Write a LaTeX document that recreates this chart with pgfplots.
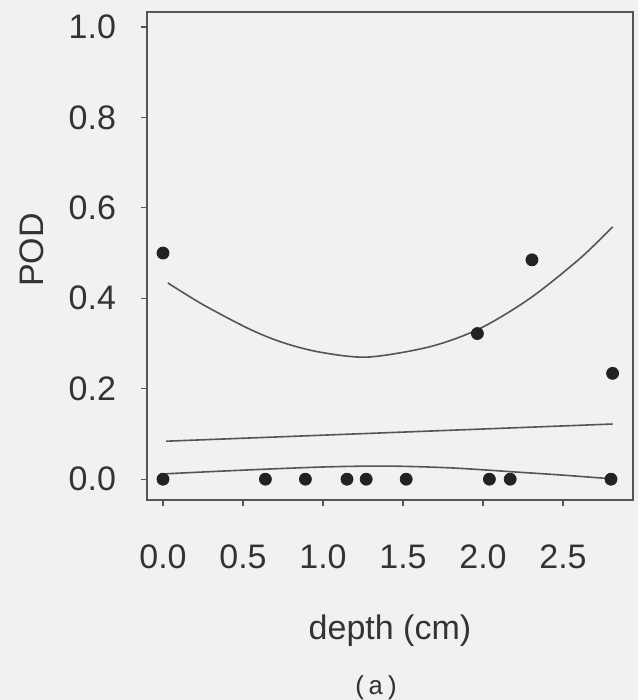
\documentclass[border=0pt]{standalone}
\usepackage{pgfplots}
\pgfplotsset{compat=1.18}
\usepackage{fontspec}
\setmainfont{Liberation Sans}
\newfontfamily\monofont{Liberation Mono}
\usetikzlibrary{backgrounds}
\definecolor{bg}{HTML}{F1F1EF}
\definecolor{ln}{HTML}{555555}
\definecolor{pt}{HTML}{222222}
\begin{document}
\begin{tikzpicture}
\path[use as bounding box] (-73.5pt,-100pt) rectangle (245.5pt,250pt);
\begin{axis}[
  at={(0pt,0pt)}, anchor=south west,
  scale only axis, width=243pt, height=244pt,
  xmin=-0.1, xmax=2.9375, ymin=-0.046, ymax=1.033,
  xtick={0,0.5,1,1.5,2,2.5}, ytick={0,0.2,0.4,0.6,0.8,1.0},
  xticklabels={0.0,0.5,1.0,1.5,2.0,2.5},
  yticklabels={0.0,0.2,0.4,0.6,0.8,1.0},
  tick align=outside, major tick length=3pt,
  xtick pos=bottom, ytick pos=left,
  axis line style={line width=0.8pt, color=ln},
  tick style={line width=0.6pt, color=ln},
  /pgf/number format/assume math mode=true,
  ticklabel style={font=\fontsize{17}{20}\selectfont, color=black!80},
  xticklabel style={yshift=-16pt},
  yticklabel style={xshift=-9pt},
  label style={font=\fontsize{17}{20}\selectfont, color=black!80},
  xlabel={depth (cm)},
  ylabel={POD},
  xlabel style={at={(axis description cs:0.5,-0.268)}, anchor=center},
  ylabel style={at={(axis description cs:-0.237,0.512)}, anchor=center, rotate=0},
]
% upper fitted curve
\addplot[color=ln, line width=0.8pt, smooth] coordinates {
(0.03,0.434) (0.25,0.386) (0.54,0.332) (0.75,0.302) (0.98,0.281) (1.28,0.270)
(1.669,0.293) (1.98,0.333) (2.294,0.400) (2.606,0.488) (2.81,0.558)};
% middle line
\addplot[color=ln, line width=0.8pt] coordinates {(0.02,0.084) (2.81,0.122)};
% lower curve
\addplot[color=ln, line width=0.8pt, smooth] coordinates {
(0.02,0.012) (0.5,0.020) (1.0,0.027) (1.4,0.029) (1.8,0.025) (2.2,0.016) (2.5,0.009) (2.8,0.001)};
% observed points
\addplot[only marks, mark=*, mark size=3pt, color=pt] coordinates {
(0.0,0.5) (0.0,0.0) (0.64,0.0) (0.89,0.0) (1.15,0.0) (1.27,0.0) (1.52,0.0)
(2.04,0.0) (2.17,0.0) (2.8,0.0) (1.965,0.322) (2.306,0.485) (2.81,0.234)};
\end{axis}
\node[font=\monofont\fontsize{13}{15}\selectfont, color=black!80] at (114.5pt,-94pt) {(a)};
\begin{pgfonlayer}{background}
\fill[bg] (-73.5pt,-100pt) rectangle (245.5pt,250pt);
\end{pgfonlayer}
\end{tikzpicture}
\end{document}
